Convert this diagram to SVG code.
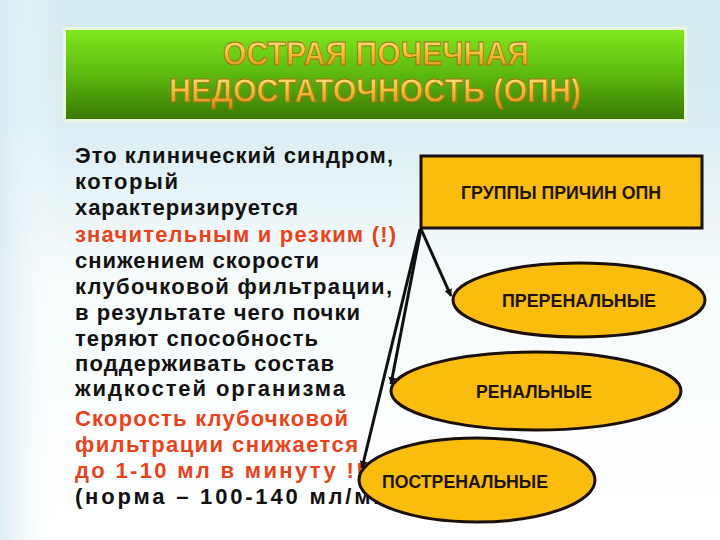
<svg xmlns="http://www.w3.org/2000/svg" width="720" height="540" viewBox="0 0 720 540">
<defs>
<linearGradient id="bg" x1="0" y1="0" x2="0" y2="1">
<stop offset="0" stop-color="#d5eaf1"/>
<stop offset="0.22" stop-color="#d9edf3"/>
<stop offset="0.5" stop-color="#f6fbfc"/>
<stop offset="1" stop-color="#ffffff"/>
</linearGradient>
<linearGradient id="bgl" x1="0" y1="0" x2="1" y2="0">
<stop offset="0" stop-color="#d9edf3" stop-opacity="0.9"/>
<stop offset="1" stop-color="#ffffff" stop-opacity="0"/>
</linearGradient>
<linearGradient id="green" x1="0" y1="0" x2="0" y2="1">
<stop offset="0" stop-color="#80e81e"/>
<stop offset="0.5" stop-color="#5cb80e"/>
<stop offset="1" stop-color="#3a7a05"/>
</linearGradient>
<linearGradient id="gold" x1="0" y1="0" x2="0" y2="1">
<stop offset="0" stop-color="#fff0a0"/>
<stop offset="0.45" stop-color="#f6c63e"/>
<stop offset="1" stop-color="#d48a14"/>
</linearGradient>
<marker id="arr" viewBox="0 0 10 10" refX="9" refY="5" markerWidth="2.6" markerHeight="2.6" orient="auto" markerUnits="strokeWidth">
<path d="M0,0 L10,5 L0,10 z" fill="#111"/>
</marker>
<style>
.body{font-family:"Liberation Sans",Arial,sans-serif;font-weight:bold;font-size:22px;fill:#111}
.red{fill:#e8431a}
.title{font-family:"Liberation Sans",Arial,sans-serif;font-weight:bold;font-size:34px;fill:url(#gold);stroke:#a0700f;stroke-width:0.9}
.node{fill:#fbbd0d;stroke:#1a1008;stroke-width:3}
.lbl{font-family:"Liberation Sans",Arial,sans-serif;font-weight:bold;font-size:18px;fill:#1e140c;text-anchor:middle}
.conn{stroke:#111;stroke-width:3;fill:none;marker-end:url(#arr)}
</style>
</defs>
<rect width="720" height="540" fill="url(#bg)"/>
<rect width="60" height="540" fill="url(#bgl)"/>

<g id="header">
<rect x="63" y="27" width="624" height="95" fill="#eefbd8" opacity="0.8"/>
<rect x="66" y="30" width="618" height="89" fill="url(#green)"/>
<text class="title" x="376" y="65" text-anchor="middle" textLength="306" lengthAdjust="spacingAndGlyphs">ОСТРАЯ ПОЧЕЧНАЯ</text>
<text class="title" x="375" y="102" text-anchor="middle" textLength="412" lengthAdjust="spacingAndGlyphs">НЕДОСТАТОЧНОСТЬ (ОПН)</text>
</g>

<g id="definition">
<text class="body" x="75" y="163" textLength="318" lengthAdjust="spacing">Это клинический синдром,</text>
<text class="body" x="75" y="189" textLength="103" lengthAdjust="spacing">который</text>
<text class="body" x="75" y="215" textLength="223" lengthAdjust="spacing">характеризируется</text>
<text class="body red" x="75" y="242" textLength="321" lengthAdjust="spacing">значительным и резким (!)</text>
<text class="body" x="75" y="268" textLength="244" lengthAdjust="spacing">снижением скорости</text>
<text class="body" x="75" y="294" textLength="317" lengthAdjust="spacing">клубочковой фильтрации,</text>
<text class="body" x="75" y="320" textLength="285" lengthAdjust="spacing">в результате чего почки</text>
<text class="body" x="75" y="346" textLength="243" lengthAdjust="spacing">теряют способность</text>
<text class="body" x="75" y="371" textLength="259" lengthAdjust="spacing">поддерживать состав</text>
<text class="body" x="75" y="396" textLength="270" lengthAdjust="spacing">жидкостей организма</text>
<text class="body red" x="75" y="426" textLength="273" lengthAdjust="spacing">Скорость клубочковой</text>
<text class="body red" x="75" y="452" textLength="283" lengthAdjust="spacing">фильтрации снижается</text>
<text class="body red" x="75" y="478" textLength="298" lengthAdjust="spacing">до 1-10 мл в минуту !!!</text>
<text class="body" x="75" y="504" textLength="338" lengthAdjust="spacing">(норма – 100-140 мл/мин)</text>
</g>

<g id="connectors">
<line class="conn" x1="421" y1="229" x2="451" y2="296"/>
<line class="conn" x1="421" y1="229" x2="391" y2="384"/>
<line class="conn" x1="420" y1="229" x2="362" y2="468"/>
</g>

<g id="groups">
<rect class="node" x="421" y="156" width="281" height="72"/>
<text class="lbl" x="561" y="199" textLength="200" lengthAdjust="spacingAndGlyphs">ГРУППЫ ПРИЧИН ОПН</text>
</g>
<g id="prerenal">
<ellipse class="node" cx="579" cy="300" rx="126" ry="37"/>
<text class="lbl" x="579" y="307" textLength="154" lengthAdjust="spacingAndGlyphs">ПРЕРЕНАЛЬНЫЕ</text>
</g>
<g id="renal">
<ellipse class="node" cx="536" cy="391" rx="145" ry="39"/>
<text class="lbl" x="534" y="398" textLength="116" lengthAdjust="spacingAndGlyphs">РЕНАЛЬНЫЕ</text>
</g>
<g id="postrenal">
<ellipse class="node" cx="477" cy="480" rx="118" ry="42"/>
<text class="lbl" x="465" y="488" textLength="166" lengthAdjust="spacingAndGlyphs">ПОСТРЕНАЛЬНЫЕ</text>
</g>
</svg>
